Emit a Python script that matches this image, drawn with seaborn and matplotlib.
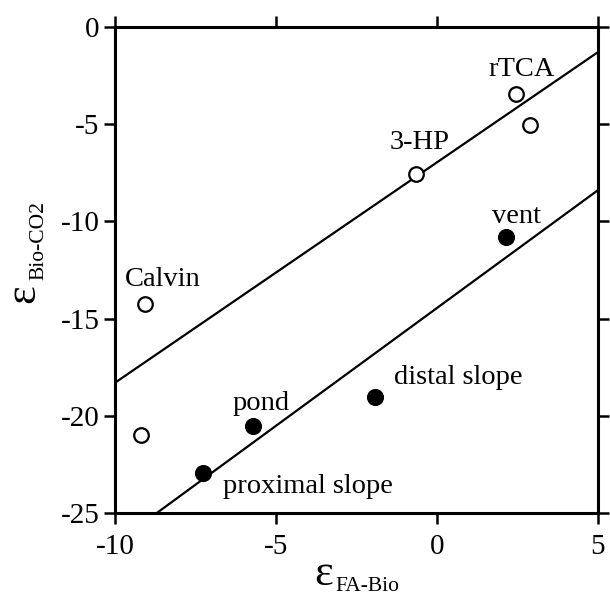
import numpy as np
import pandas as pd
import matplotlib
matplotlib.use("Agg")
import matplotlib.pyplot as plt
import seaborn as sns

# ── data ──
open_x = [-9.07, -9.19, -0.65, 2.45, 2.89]
open_y = [-14.25, -20.99, -7.56, -3.45, -5.04]

filled_x = [2.14, -1.93, -5.71, -7.27]
filled_y = [-10.8, -19.03, -20.52, -22.94]

upper_fit_x = [-10, 5]
upper_fit_y = [-18.3, -1.3]
lower_fit_x = [-8.7, 5]
lower_fit_y = [-25.0, -8.4]

labels = ["rTCA", "3-HP", "Calvin", "vent", "distal slope", "pond", "proximal slope"]
label_x = [2.64, -0.53, -8.51, 2.48, 0.68, -5.47, -4.0]
label_y = [-2.2, -5.95, -13.0, -9.75, -18.05, -19.35, -23.65]

sns.set_theme(style="ticks")
plt.rcParams["font.family"] = ["Liberation Serif", "DejaVu Serif"]
plt.rcParams["text.color"] = "black"

open_df = pd.DataFrame({"x": open_x, "y": open_y})
filled_df = pd.DataFrame({"x": filled_x, "y": filled_y})

W, H = 610, 597
fig = plt.figure(figsize=(W / 100, H / 100), dpi=100)
ax = fig.add_axes([0.1885, 0.1407, 0.7915, 0.8141])

sns.lineplot(x=upper_fit_x, y=upper_fit_y, color="black", lw=1.6, ax=ax)
sns.lineplot(x=lower_fit_x, y=lower_fit_y, color="black", lw=1.6, ax=ax)

sns.scatterplot(data=open_df, x="x", y="y", s=110, facecolor="white",
                edgecolor="black", linewidth=1.6, ax=ax, zorder=3)
sns.scatterplot(data=filled_df, x="x", y="y", s=130, color="black",
                edgecolor="black", ax=ax, zorder=3)

for t, lx, ly in zip(labels, label_x, label_y):
    ax.text(lx, ly, t, fontsize=20.5, ha="center", va="center", color="black")

ax.set_xlim(-10, 5)
ax.set_ylim(-25, 0)
ax.set_xticks([-10, -5, 0, 5])
ax.set_yticks([0, -5, -10, -15, -20, -25])
ax.set_xticklabels(["-10", "-5", "0", "5"])
ax.set_yticklabels(["0", "-5", "-10", "-15", "-20", "-25"])

for s in ax.spines.values():
    s.set_visible(True)
    s.set_linewidth(2.2)
    s.set_color("black")
ax.tick_params(axis="both", which="major", direction="out", length=8, width=1.8,
               labelsize=21, colors="black", labelcolor="black", top=True, right=True,
               labeltop=False, labelright=False)
ax.tick_params(axis="x", pad=7)
ax.tick_params(axis="y", pad=3)
ax.set_xlabel("")
ax.set_ylabel("")

# axis labels: big epsilon with a smaller subscript
fig.text(314 / W, 1 - 585 / H, "ε", fontsize=32, ha="left", va="baseline")
fig.text(335 / W, 1 - 591 / H, "FA-Bio", fontsize=15.5, ha="left", va="baseline")
fig.text(34 / W, 1 - 303 / H, "ε", fontsize=32, rotation=90,
         rotation_mode="anchor", ha="left", va="baseline")
fig.text(43 / W, 1 - 280 / H, "Bio-CO2", fontsize=15.5, rotation=90,
         rotation_mode="anchor", ha="left", va="baseline")

fig.savefig("out.png", dpi=100)
